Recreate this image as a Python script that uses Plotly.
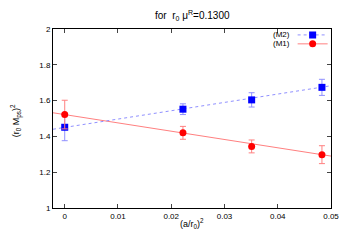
import plotly.graph_objects as go

# (a/r0)^2 values
x_vals = [0.0, 0.0222, 0.0351, 0.0483]

# (M1) red circles
m1_y = [1.522, 1.420, 1.344, 1.298]
m1_err = [0.08, 0.036, 0.036, 0.05]

# (M2) blue squares
m2_y = [1.451, 1.552, 1.604, 1.674]
m2_err = [0.075, 0.03, 0.04, 0.045]

# linear fits, read at the plot edges
fit_x = [-0.0022, 0.05]
m1_fit = [1.532, 1.290]
m2_fit = [1.440, 1.683]

RED, RED_L = "#ff0000", "#ff8080"
BLUE, BLUE_L = "#0000ff", "#9090ff"

fig = go.Figure()

fig.add_trace(go.Scatter(x=fit_x, y=m1_fit, mode="lines",
                         line=dict(color=RED_L, width=1),
                         showlegend=False, hoverinfo="skip"))
fig.add_trace(go.Scatter(x=fit_x, y=m2_fit, mode="lines",
                         line=dict(color=BLUE_L, width=1, dash="dot"),
                         showlegend=False, hoverinfo="skip"))

fig.add_trace(go.Scatter(x=x_vals, y=m2_y, mode="markers", showlegend=False,
                         marker=dict(symbol="square", size=7, color=BLUE),
                         error_y=dict(type="data", array=m2_err, color=BLUE_L,
                                      thickness=1, width=3)))
fig.add_trace(go.Scatter(x=x_vals, y=m1_y, mode="markers", showlegend=False,
                         marker=dict(symbol="circle", size=7, color=RED),
                         error_y=dict(type="data", array=m1_err, color=RED_L,
                                      thickness=1, width=3)))

# legend-only entries (gnuplot style: text left, sample right)
fig.add_trace(go.Scatter(x=[None], y=[None], mode="lines+markers", name="",
                         legend="legend",
                         line=dict(color=BLUE_L, width=1, dash="dot"),
                         marker=dict(symbol="square", size=7, color=BLUE)))
fig.add_trace(go.Scatter(x=[None], y=[None], mode="lines+markers", name="",
                         legend="legend2",
                         line=dict(color=RED_L, width=1),
                         marker=dict(symbol="circle", size=7, color=RED)))

axis_style = dict(showline=True, linecolor="black", linewidth=1, mirror="ticks",
                  ticks="inside", ticklen=4, tickcolor="#444", showgrid=False,
                  zeroline=False, automargin=False,
                  tickfont=dict(size=8, color="black"))

leg = dict(xref="paper", yref="paper", xanchor="left", yanchor="middle",
           bgcolor="rgba(0,0,0,0)", font=dict(size=8), itemwidth=30,
           borderwidth=0)

# page body has an 8px default margin, so the figure is shrunk by that much
fig.update_layout(
    width=342, height=237,
    margin=dict(l=45, r=14, t=19, b=37),
    plot_bgcolor="white", paper_bgcolor="white",
    font=dict(family="Liberation Sans, Arial, sans-serif", size=8, color="black"),
    xaxis=dict(range=[-0.0022, 0.05], dtick=0.01, tick0=0, **axis_style),
    yaxis=dict(range=[1, 2], dtick=0.2, tick0=1, **axis_style),
    legend=dict(x=0.862, y=0.967, **leg),
    legend2=dict(x=0.862, y=0.917, **leg),
)

for name, yy in [("(M2)", 0.967), ("(M1)", 0.917)]:
    fig.add_annotation(text=name, xref="paper", yref="paper", x=0.858, y=yy,
                       showarrow=False, font=dict(size=8),
                       xanchor="right", yanchor="middle")

fig.add_annotation(text="for  r<sub>0</sub> μ<sup>R</sup>=0.1300", xref="paper", yref="paper",
                   x=0.5, y=1.077, showarrow=False, font=dict(size=10),
                   xanchor="center", yanchor="middle")
fig.add_annotation(text="(a/r<sub>0</sub>)<sup>2</sup>", xref="paper", yref="paper",
                   x=0.5, y=-0.088, showarrow=False, font=dict(size=9),
                   xanchor="center", yanchor="middle")
fig.add_annotation(text="(r<sub>0</sub> M<sub>ps</sub>)<sup>2</sup>", xref="paper", yref="paper",
                   x=-0.1325, y=0.486, showarrow=False, font=dict(size=9),
                   textangle=-90, xanchor="center", yanchor="middle")

fig.write_html("out.html")
